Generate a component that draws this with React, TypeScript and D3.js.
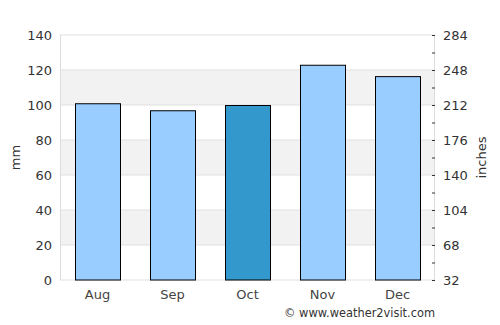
import { scaleBand, scaleLinear, range } from "d3";

const months = ["Aug", "Sep", "Oct", "Nov", "Dec"];
const rainfall = [101, 97, 100, 123, 116.5];
const highlightMonth = "Oct";
const leftTicks = [0, 20, 40, 60, 80, 100, 120, 140];
const rightTicks = [32, 68, 104, 140, 176, 212, 248, 284];

const W = 500;
const H = 325;
const margin = { top: 35, right: 65, bottom: 45, left: 60 };

export default function App() {
  const w = W - margin.left - margin.right;
  const h = H - margin.top - margin.bottom;

  const x = scaleBand<string>()
    .domain(months)
    .range([0, w])
    .paddingInner(0.4)
    .paddingOuter(0.2);
  const y = scaleLinear().domain([0, 140]).range([h, 0]);
  const y2 = scaleLinear().domain([32, 284]).range([h, 0]);
  const rightMinor = range(32, 285, 18);

  const font = "DejaVu Sans, sans-serif";

  return (
    <svg
      width={W}
      height={H}
      style={{ position: "absolute", left: 0, top: 0, fontFamily: font }}
    >
      <rect width={W} height={H} fill="#fff" />
      <g transform={`translate(${margin.left},${margin.top})`}>
        {/* alternating bands */}
        {leftTicks.slice(0, -1).map((t, i) =>
          i % 2 === 1 ? (
            <rect
              key={`b${t}`}
              x={0}
              y={y(t + 20)}
              width={w}
              height={y(t) - y(t + 20)}
              fill="#f2f2f2"
            />
          ) : null,
        )}
        {leftTicks.map((t) => (
          <line
            key={`g${t}`}
            x1={0}
            x2={w}
            y1={y(t)}
            y2={y(t)}
            stroke="#e0e0e0"
            strokeWidth={1}
          />
        ))}
        <line x1={0.5} x2={0.5} y1={0} y2={h} stroke="#dcdcdc" />
        <line x1={w - 0.5} x2={w - 0.5} y1={0} y2={h} stroke="#dcdcdc" />

        {/* bars */}
        {months.map((m, i) => (
          <rect
            key={m}
            x={(x(m) ?? 0) + 0.5}
            y={y(rainfall[i]) + 0.5}
            width={x.bandwidth()}
            height={h - y(rainfall[i]) - 0.5}
            fill={m === highlightMonth ? "#3399cc" : "#99ccff"}
            stroke="#000"
            strokeWidth={1}
          />
        ))}

        {/* left axis */}
        {leftTicks.map((t) => (
          <text
            key={`l${t}`}
            x={-8}
            y={y(t)}
            dy="0.35em"
            textAnchor="end"
            fontSize={13}
            fill="#333"
          >
            {t}
          </text>
        ))}
        <text
          transform={`translate(${-40},${h / 2}) rotate(-90)`}
          textAnchor="middle"
          fontSize={13}
          fill="#333"
        >
          mm
        </text>

        {/* right axis */}
        {rightMinor.map((t) => (
          <line
            key={`m${t}`}
            x1={w - 3}
            x2={w}
            y1={y2(t) + 0.5}
            y2={y2(t) + 0.5}
            stroke="#333"
          />
        ))}
        {rightTicks.map((t) => (
          <text
            key={`r${t}`}
            x={w + 8}
            y={y2(t)}
            dy="0.35em"
            textAnchor="start"
            fontSize={13}
            fill="#333"
          >
            {t}
          </text>
        ))}
        <text
          transform={`translate(${w + 51},${h / 2}) rotate(-90)`}
          textAnchor="middle"
          fontSize={13}
          fill="#333"
        >
          inches
        </text>

        {/* x axis labels */}
        {months.map((m) => (
          <text
            key={`x${m}`}
            x={(x(m) ?? 0) + x.bandwidth() / 2}
            y={h + 19}
            textAnchor="middle"
            fontSize={13}
            fill="#444"
          >
            {m}
          </text>
        ))}

        <text
          x={w}
          y={h + 37}
          textAnchor="end"
          fontSize={11.4}
          fill="#333"
        >
          © www.weather2visit.com
        </text>
      </g>
    </svg>
  );
}
